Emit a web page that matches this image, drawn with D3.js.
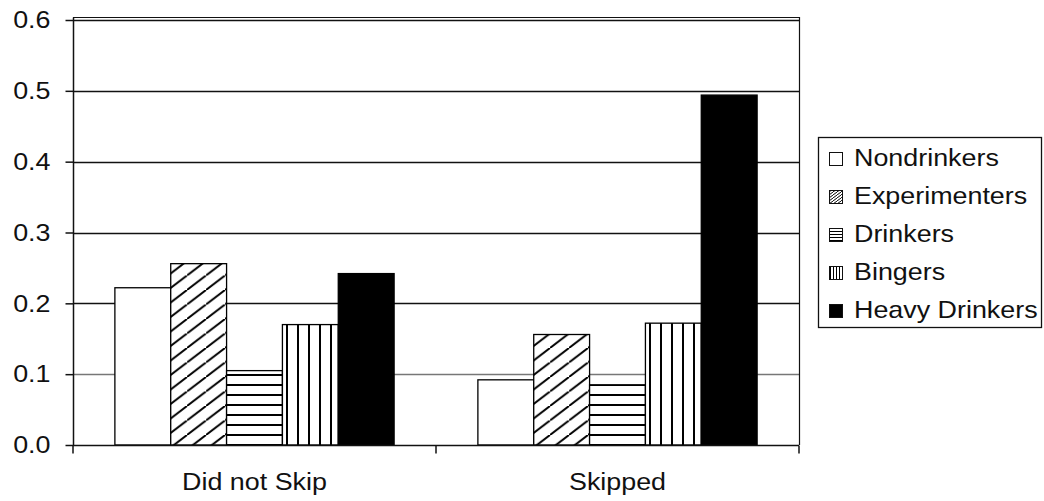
<!DOCTYPE html>
<html>
<head>
<meta charset="utf-8">
<script src="https://cdn.jsdelivr.net/npm/d3@7/dist/d3.min.js"></script>
<style>
  html, body { margin: 0; padding: 0; background: #fff; }
  svg { display: block; font-family: "Liberation Sans", Arial, sans-serif; }
</style>
</head>
<body>
<svg id="chart" width="1044" height="501"></svg>
<script>
const categories = ["Did not Skip", "Skipped"];
const seriesNames = ["Nondrinkers", "Experimenters", "Drinkers", "Bingers", "Heavy Drinkers"];
const didNotSkipValues = [0.222, 0.256, 0.105, 0.170, 0.242];
const skippedValues = [0.092, 0.156, 0.085, 0.172, 0.494];
const yTickValues = [0, 0.1, 0.2, 0.3, 0.4, 0.5, 0.6];
const seriesFills = ["white", "url(#diag)", "url(#horiz)", "url(#vert)", "black"];
const legendFills = ["white", "url(#diagS)", "url(#horizS)", "url(#vertS)", "black"];

const valuesByCategory = [didNotSkipValues, skippedValues];

const FONT = 24, STRETCH = 1.12;
function stretch(sel) {
  sel.each(function () {
    const t = d3.select(this);
    const X = +(t.attr("x") || 0);
    t.attr("transform", `translate(${X},0) scale(${STRETCH},1) translate(${-X},0)`);
  });
}

const svg = d3.select("#chart");
const mLeft = 73, mRight = 799, mTop = 20, mBottom = 445;

const defs = svg.append("defs");
function hatch(id, w, h, draw) {
  const p = defs.append("pattern").attr("id", id).attr("patternUnits", "userSpaceOnUse")
    .attr("width", w).attr("height", h);
  p.append("rect").attr("width", w).attr("height", h).attr("fill", "white");
  draw(p, w, h);
}
hatch("diag", 19, 14.5, (p, w, h) => {
  p.append("path").attr("d", `M0,${h} L${w},0 M${-w},${h} L0,0 M${w},${2*h} L${2*w},${h}`)
    .attr("stroke", "black").attr("stroke-width", 2);
});
hatch("horiz", 10, 10, (p, w, h) => {
  p.append("rect").attr("x", 0).attr("y", 4).attr("width", w).attr("height", 2).attr("fill", "black");
});
hatch("vert", 11, 10, (p, w, h) => {
  p.append("rect").attr("x", 4).attr("y", 0).attr("width", 2).attr("height", h).attr("fill", "black");
});
hatch("diagS", 4, 3, (p, w, h) => {
  p.append("path").attr("d", `M0,${h} L${w},0 M${-w},${h} L0,0 M${w},${2*h} L${2*w},${h}`)
    .attr("stroke", "black").attr("stroke-width", 1);
});
hatch("horizS", 3, 3, (p, w, h) => {
  p.append("rect").attr("x", 0).attr("y", 1).attr("width", w).attr("height", 1).attr("fill", "black");
});
hatch("vertS", 3, 3, (p, w, h) => {
  p.append("rect").attr("x", 1).attr("y", 0).attr("width", 1).attr("height", h).attr("fill", "black");
});

const y = d3.scaleLinear().domain([0, 0.6]).range([mBottom, mTop]);
const x0 = d3.scaleBand().domain(categories).range([mLeft, mRight]).paddingInner(0).paddingOuter(0);
const bw = x0.bandwidth();
const gap = 1.5 * bw / 6.5;
const x1 = d3.scaleBand().domain(seriesNames).range([gap / 2, bw - gap / 2]).padding(0);

// gridlines
svg.append("g").selectAll("line").data(yTickValues.filter(d => d > 0)).join("line")
  .attr("x1", mLeft).attr("x2", mRight)
  .attr("y1", d => Math.round(y(d)) + 0.5).attr("y2", d => Math.round(y(d)) + 0.5)
  .attr("stroke", d => d === 0.1 ? "#777" : "#111").attr("stroke-width", 1.3);

// plot border top/right
svg.append("path")
  .attr("d", `M${mLeft},${mTop - 2.5} H${mRight + 0.5} V${mBottom}`)
  .attr("fill", "none").attr("stroke", "#111").attr("stroke-width", 1.2);

// bars
const groups = svg.append("g").selectAll("g").data(categories).join("g")
  .attr("transform", d => `translate(${x0(d)},0)`);
groups.selectAll("rect").data((c, ci) => valuesByCategory[ci].map((v, i) => ({ name: seriesNames[i], v, i })))
  .join("rect")
  .attr("x", d => x1(d.name))
  .attr("y", d => y(d.v))
  .attr("width", x1.bandwidth())
  .attr("height", d => mBottom - y(d.v))
  .attr("fill", d => seriesFills[d.i])
  .attr("stroke", "black").attr("stroke-width", 1.3);

// y axis
const yAxis = d3.axisLeft(y).tickValues(yTickValues).tickFormat(d3.format(".1f")).tickSize(8);
const gy = svg.append("g").attr("transform", `translate(${mLeft + 0.5},0)`).call(yAxis);
gy.select(".domain").attr("d", `M0,${mTop - 2.5}V${mBottom}`).attr("stroke", "#111").attr("stroke-width", 1.5);
gy.selectAll(".tick line").attr("stroke", "#111").attr("stroke-width", 1.5);
gy.selectAll("text").attr("font-size", FONT).attr("fill", "#111").attr("x", 50.5 - (mLeft + 0.5))
  .attr("font-family", "'Liberation Sans', Arial, sans-serif").call(stretch);

// x axis
const xAxis = d3.axisBottom(x0).tickSize(0);
const gx = svg.append("g").attr("transform", `translate(0,${mBottom + 0.5})`).call(xAxis);
gx.select(".domain").attr("d", `M${mLeft},0H${mRight}`).attr("stroke", "#111").attr("stroke-width", 1.5);
gx.selectAll("text").attr("font-size", FONT).attr("fill", "#111").attr("y", 490 - (mBottom + 0.5)).attr("dy", 0)
  .attr("font-family", "'Liberation Sans', Arial, sans-serif").call(stretch);
// category boundary ticks
gx.append("g").selectAll("line").data([mLeft, ...categories.map(c => x0(c) + bw)]).join("line")
  .attr("x1", d => d).attr("x2", d => d).attr("y1", 0).attr("y2", 8)
  .attr("stroke", "#111").attr("stroke-width", 1.5);

// legend
const lg = svg.append("g").attr("transform", "translate(818,137)");
lg.append("rect").attr("x", 0.5).attr("y", 0.5).attr("width", 223).attr("height", 190)
  .attr("fill", "white").attr("stroke", "#111").attr("stroke-width", 1.3);
const items = lg.selectAll("g.item").data(seriesNames).join("g").attr("class", "item")
  .attr("transform", (d, i) => `translate(11,${29 + i * 38})`);
items.append("rect").attr("x", 0.5).attr("y", -13.5).attr("width", 13).attr("height", 13)
  .attr("fill", (d, i) => legendFills[i]).attr("stroke", "#111").attr("stroke-width", 1);
items.append("text").attr("x", 25).attr("y", 0)
  .attr("font-size", FONT).attr("fill", "#111").text(d => d).call(stretch);
</script>
</body>
</html>
